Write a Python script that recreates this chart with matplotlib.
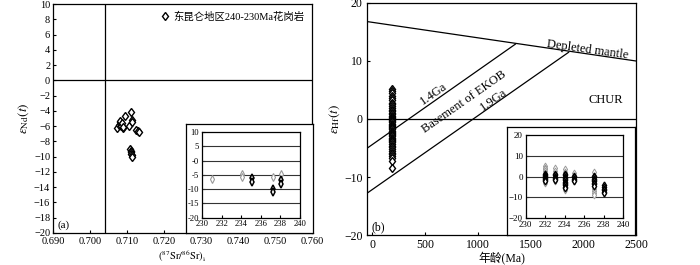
import numpy as np
import matplotlib
matplotlib.use('Agg')
import matplotlib.pyplot as plt

plt.rcParams['font.family'] = ['Liberation Serif', 'Noto Sans CJK SC']
plt.rcParams['mathtext.fontset'] = 'stix'

# panel (a): Sr-Nd
sr_a = [0.7074, 0.7078, 0.7080, 0.7082, 0.7083, 0.7085, 0.7087, 0.7088, 0.7090, 0.7095,
        0.7106, 0.7112, 0.7114, 0.7114, 0.7124, 0.7129, 0.7133,
        0.7108, 0.7110, 0.7111, 0.7112, 0.7113, 0.7114]
nd_a = [-6.3, -5.9, -5.5, -5.3, -5.8, -6.0, -5.6, -6.2, -6.1, -4.7,
        -6.0, -4.2, -5.2, -5.4, -6.5, -6.7, -6.8,
        -9.0, -9.2, -9.4, -9.6, -9.8, -10.0]
bse_sr = 0.7041

# inset (a): eNd vs age
age_in_a_grey = [231.0, 234.1, 234.1, 237.2, 238.1]
nd_in_a_grey = [-6.5, -4.7, -5.9, -5.9, -4.7]
age_in_a_dark = [235.1, 235.1, 237.2, 237.2, 238.1, 238.1]
nd_in_a_dark = [-6.3, -7.4, -10.0, -11.2, -7.0, -8.1]

# panel (b): Hf evolution
age_b = 190
hf_b = [5.2, 4.8, 4.4, 4.0, 3.6, 3.2, 2.8, 2.5, 2.2, 1.9, 1.6, 1.4, 1.1, 0.9, 0.6, 0.4,
        0.2, 0.0, -0.2, -0.4, -0.6, -0.8, -1.0, -1.2, -1.4, -1.6, -1.8, -2.0, -2.2, -2.4,
        -2.6, -2.8, -3.0, -3.2, -3.4, -3.6, -3.8, -4.0, -4.3, -4.6, -4.9, -5.2, -5.5,
        -5.8, -6.1, -6.4, -6.8, -7.2, -8.4]
dm_x = [-50, 2500]
dm_y = [16.8, 10.0]
ga14_x = [-50, 1356]
ga14_y = [-5.05, 12.9]
ga19_x = [-50, 1861]
ga19_y = [-12.8, 11.5]

# inset (b): eHf vs age, per column
in_b_cols = [232, 233, 234, 235, 237, 238]
in_b_grey = [[5.2, 4.3, 3.5, 2.7, 1.9, -1.5, -2.5, -3.2],
             [4.2, 2.5, -2.3],
             [3.6, 2.0, -6.2],
             [1.8],
             [2.0, -5.0, -6.0, -7.0, -8.0, -9.0],
             []]
in_b_dark = [[1.5, 1.0, 0.5, 0.0, -0.5, -1.0, -1.5, -2.0],
             [1.2, 0.6, 0.0, -0.6, -1.2, -1.8],
             [1.2, 0.6, 0.0, -0.6, -1.2, -1.8, -2.4, -3.0, -3.6, -4.2, -4.8, -5.4],
             [0.4, -0.3, -1.0, -1.7, -2.3],
             [0.5, -0.2, -0.9, -1.6, -2.3, -3.0, -3.7, -4.4],
             [-4.2, -5.0, -5.8, -6.6, -7.4, -8.0]]

fig = plt.figure(figsize=(7, 2.65), dpi=100)

def style(ax, fs, pad=2):
    for s in ax.spines.values():
        s.set_linewidth(0.9)
    ax.tick_params(direction='in', length=2.5, width=0.8, labelsize=fs, pad=pad)

# ---- (a)
ax = fig.add_axes([0.0757, 0.1208, 0.37, 0.864])
style(ax, 7.5)
ax.tick_params(axis='x', pad=3)
ax.set_xlim(0.690, 0.760)
ax.set_ylim(-20, 10)
ax.set_xticks(np.arange(0.690, 0.7601, 0.010))
ax.set_xticklabels(['%.3f' % v for v in np.arange(0.690, 0.7601, 0.010)])
ax.set_yticks(np.arange(-20, 11, 2))
ax.axhline(0, color='k', lw=0.9)
ax.axvline(bse_sr, color='k', lw=0.9)
ax.plot(sr_a, nd_a, 'd', mfc='white', mec='k', ms=4.5, mew=1.0, zorder=3)
ax.plot([], [], 'd', mfc='white', mec='k', ms=4.5, mew=1.0, label='东昆仑地区240-230Ma花岗岩')
ax.legend(loc='upper right', frameon=False, fontsize=7.5, handlelength=0.8,
          handletextpad=0.4, borderaxespad=0.3)
ax.text(0.018, 0.022, '(a)', transform=ax.transAxes, fontsize=8)
ax.set_ylabel(r'$\varepsilon_{\rm Nd}(t)$', fontsize=9.5, labelpad=2)
ax.set_xlabel(r'$(^{87}{\rm Sr}/^{86}{\rm Sr})_{\rm i}$', fontsize=7.5, labelpad=2)

box = fig.add_axes([0.2657, 0.1208, 0.1814, 0.4113])
box.set_xticks([]); box.set_yticks([])
box.set_facecolor('white')
for s in box.spines.values():
    s.set_linewidth(0.9)

ia = fig.add_axes([0.2886, 0.1792, 0.14, 0.3226])
style(ia, 6.2, pad=2)
ia.set_xlim(230, 240)
ia.set_ylim(-20, 10)
ia.set_xticks(range(230, 241, 2))
ia.set_yticks(range(-20, 11, 5))
ia.set_yticklabels(['-20', '-15', '-10', '-5', '-0', '5', '10'])
for g in [5, 0, -5, -10, -15]:
    ia.axhline(g, color='#333333', lw=0.8)
ia.plot(age_in_a_grey, nd_in_a_grey, 'd', mfc='white', mec='#999999', ms=4, mew=0.8)
ia.plot(age_in_a_dark, nd_in_a_dark, 'd', mfc='white', mec='k', ms=4, mew=1.1)

# ---- (b)
bx = fig.add_axes([0.5243, 0.1132, 0.3843, 0.8755])
style(bx, 8.5, pad=3)
bx.set_xlim(-50, 2500)
bx.set_ylim(-20, 20)
bx.set_xticks(range(0, 2501, 500))
bx.set_yticks([-20, -10, 0, 10, 20])
bx.axhline(0, color='k', lw=0.9)
bx.plot(dm_x, dm_y, color='k', lw=0.9)
bx.plot(ga14_x, ga14_y, color='k', lw=0.9)
bx.plot(ga19_x, ga19_y, color='k', lw=0.9)
bx.plot([age_b] * len(hf_b), hf_b, 'd', mfc='white', mec='k', ms=4.5, mew=1.0, zorder=3)
bx.text(2036, 12.0, 'Depleted mantle', rotation=-8, fontsize=9, ha='center', va='center')
bx.text(581, 4.4, '1.4Ga', rotation=35, fontsize=9, ha='center', va='center')
bx.text(866, 3.0, 'Basement of EKOB', rotation=35, fontsize=9, ha='center', va='center')
bx.text(1150, 3.3, '1.9Ga', rotation=35, fontsize=9, ha='center', va='center')
bx.text(2209, 3.3, 'CHUR', fontsize=9, ha='center', va='center')
bx.text(0.018, 0.022, '(b)', transform=bx.transAxes, fontsize=8.5)
bx.set_ylabel(r'$\varepsilon_{\rm Hf}(t)$', fontsize=9.5, labelpad=2)
bx.set_xlabel('年龄(Ma)', fontsize=8.5, labelpad=1)

box2 = fig.add_axes([0.7243, 0.1132, 0.1829, 0.4094])
box2.set_xticks([]); box2.set_yticks([])
box2.set_facecolor('white')
for s in box2.spines.values():
    s.set_linewidth(0.9)

ib = fig.add_axes([0.751, 0.1762, 0.1394, 0.3143])
style(ib, 6.5, pad=2)
ib.set_xlim(230, 240)
ib.set_ylim(-20, 20)
ib.set_xticks(range(230, 241, 2))
ib.set_yticks([-20, -10, 0, 10, 20])
for g in [10, 0, -10]:
    ib.axhline(g, color='#333333', lw=0.8)
for c, gv, dv in zip(in_b_cols, in_b_grey, in_b_dark):
    ib.plot([c] * len(gv), gv, 'd', mfc='white', mec='#999999', ms=3.5, mew=0.7)
    ib.plot([c] * len(dv), dv, 'd', mfc='white', mec='k', ms=3.5, mew=1.0)

fig.savefig('out.png', dpi=100)
